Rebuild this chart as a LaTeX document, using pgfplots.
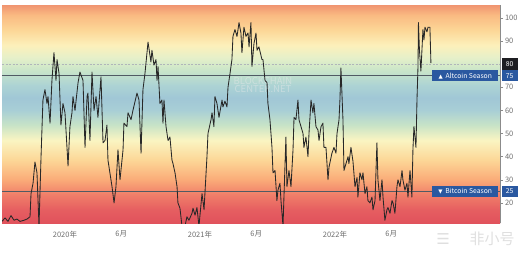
\documentclass[border=0pt]{standalone}
\usepackage{pgfplots}
\pgfplotsset{compat=1.18}
\usepackage{fontspec}
\setmainfont{Noto Sans CJK SC}
\newfontfamily\dejavu{DejaVu Sans}
\definecolor{lineC}{RGB}{40,40,40}
\definecolor{refC}{RGB}{80,90,100}
\definecolor{boxBlue}{RGB}{42,88,160}
\definecolor{boxDark}{RGB}{30,30,34}
\definecolor{tickC}{RGB}{110,110,110}
\pgfdeclareverticalshading{bgshade}{100bp}{
rgb(0bp)=(0.88,0.32,0.36);
rgb(25bp)=(0.88,0.32,0.36);
rgb(28bp)=(0.90,0.37,0.38);
rgb(31.4bp)=(0.94,0.49,0.41);
rgb(34.9bp)=(0.98,0.67,0.47);
rgb(39.4bp)=(0.99,0.84,0.59);
rgb(44bp)=(0.98,0.96,0.76);
rgb(47.5bp)=(0.78,0.89,0.78);
rgb(50.9bp)=(0.66,0.81,0.84);
rgb(53.7bp)=(0.63,0.78,0.84);
rgb(56.7bp)=(0.68,0.83,0.83);
rgb(60.1bp)=(0.79,0.90,0.79);
rgb(62.9bp)=(0.90,0.94,0.79);
rgb(65.8bp)=(0.99,0.94,0.73);
rgb(69.3bp)=(0.99,0.84,0.59);
rgb(72.7bp)=(0.98,0.73,0.51);
rgb(75bp)=(0.94,0.58,0.44);
rgb(100bp)=(0.94,0.58,0.44)}

\pgfplotstableread{
m v
-5.60 12
-5.33 13.5
-5.07 12
-4.80 14.5
-4.53 12.5
-4.27 13
-4.00 12
-3.64 12.5
-3.38 13
-3.11 14
-3.02 24
-2.84 28.5
-2.67 37.7
-2.49 33
-2.31 10
-2.13 40
-1.96 64.5
-1.78 69
-1.60 63
-1.51 66
-1.33 54.5
-1.16 73
-0.98 85
-0.80 73
-0.71 82
-0.53 76
-0.36 53.7
-0.18 63
0.00 59
0.27 36
0.44 53
0.62 59
0.71 66
0.89 60
1.16 72
1.33 76.6
1.60 73
1.78 44
1.96 66
2.04 67.5
2.22 47
2.40 76.6
2.58 60
2.76 66
2.93 57
3.20 74.5
3.38 46
3.56 47
3.73 53.7
3.82 38.5
4.18 27
4.36 20
4.53 27
4.71 43
4.89 30
5.16 43
5.24 54.5
5.51 53
5.60 59
5.87 56
6.04 60
6.40 67.5
6.58 64.5
6.76 41.5
6.93 69
7.11 76
7.29 85
7.38 89.6
7.64 81
7.73 86
7.91 79.6
8.09 82
8.18 73
8.27 79
8.44 63
8.62 64.5
8.71 54.5
8.80 64.5
8.98 53
9.16 47
9.33 48.5
9.51 38.5
9.60 37
9.78 33
9.96 27
10.04 20
10.22 17.7
10.40 10
10.67 10
10.84 14
11.02 12.5
11.29 15.5
11.38 17.7
11.56 14.7
11.73 18
11.91 10
12.18 24
12.36 17
12.62 40
12.71 50
12.98 56
13.07 59
13.24 53
13.33 66
13.51 63
13.69 57
13.96 64.5
14.04 61.5
14.22 64
14.40 61.5
14.49 70
14.67 76
14.84 82
14.93 92
15.11 95
15.29 92
15.47 98
15.64 93.5
15.73 85
15.91 96
16.09 92
16.27 93.5
16.36 87.5
16.53 98
16.62 79
16.80 89
16.98 93.5
17.07 86
17.24 87.5
17.51 82
17.60 82
17.78 73
17.96 72
18.04 63
18.22 56
18.40 44
18.49 33
18.67 34
18.84 21
18.93 25.5
19.11 28.5
19.20 21
19.38 10
19.64 48.5
19.73 27
19.91 34
20.09 27
20.27 43
20.36 57
20.53 56
20.71 64.5
20.80 56
20.98 53
21.16 50
21.24 44
21.42 48.5
21.60 40
21.69 50
21.87 64.5
22.04 59
22.13 63
22.31 53
22.49 51.5
22.58 47
22.76 53
22.93 54.5
23.02 44
23.20 44
23.38 30
23.47 35.5
23.73 41.5
23.91 44
24.09 41.5
24.18 50
24.36 56
24.44 64.5
24.53 78.4
24.71 56
24.80 34
24.98 37
25.16 40
25.24 37
25.42 44
25.60 38
25.78 27
25.96 31
26.04 22.5
26.22 33
26.40 30
26.49 33
26.67 24
26.84 27
26.93 21
27.11 20
27.29 22.5
27.38 17
27.56 21
27.73 46
27.82 30
28.00 21
28.18 30
28.27 22.5
28.44 12.5
28.62 17
28.71 18
28.89 15.5
29.07 21
29.16 20
29.33 15.5
29.51 27
29.60 30
29.78 27
29.96 34
30.04 30
30.22 25.5
30.40 28.5
30.49 22.5
30.67 34
30.84 22.5
30.93 43
31.02 53
31.20 44
31.29 64.5
31.38 79
31.42 98
31.51 86
31.64 77
31.73 86
31.82 95
31.91 90.5
32.00 96
32.18 94
32.27 96
32.44 96
32.53 80.5
}\altdata

\begin{document}
\begin{tikzpicture}
\useasboundingbox (-2pt,-32pt) rectangle (518pt,223pt);
\begin{axis}[
  at={(0pt,0pt)}, anchor=south west,
  scale only axis, width=498pt, height=218pt,
  xmin=-5.6, xmax=38.67, ymin=11.3, ymax=105.6,
  axis background/.style={shade, shading=bgshade},
  axis x line*=bottom, axis y line*=right,
  x axis line style={draw=none},
  y axis line style={draw=tickC!80, line width=0.5pt},
  xtick={0,5,12,17,24,29},
  xticklabels={2020年,6月,2021年,6月,2022年,6月},
  xtick style={draw=none},
  ytick={20,30,40,50,60,70,90,100},
  ytick style={draw=tickC!80, line width=0.4pt},
  tick align=outside, major tick length=3pt,
  tick label style={font=\fontsize{7.5}{8}\selectfont, text=tickC},
  x tick label style={yshift=-1.5pt},
  y tick label style={xshift=-1.5pt},
  /pgf/number format/assume math mode=true,
  clip mode=individual,
]
\node[text=gray!15, opacity=0.45, font=\fontsize{9.5}{10}\selectfont, align=center] at (axis cs:17.6,71) {BLOCKCHAIN\\[-2pt]CENTER.NET};
\addplot[refC!45, line width=0.5pt, dash pattern=on 2pt off 1.5pt] coordinates {(-5.6,80) (38.67,80)};
\addplot[refC, line width=0.75pt] coordinates {(-5.6,75) (38.67,75)};
\addplot[refC, line width=0.75pt] coordinates {(-5.6,25) (38.67,25)};
\addplot[lineC, line width=0.85pt, line join=round] table[x=m, y=v] {\altdata};
\coordinate (p80) at (axis cs:38.67,80);
\coordinate (p75) at (axis cs:38.67,75);
\coordinate (p25) at (axis cs:38.67,25);
\end{axis}
\tikzset{lbl/.style={inner sep=0pt, minimum height=11.5pt, text=white, font=\fontsize{6.8}{7}\selectfont}}
\node[lbl, fill=boxDark, anchor=west, minimum width=16pt] at ([xshift=1.5pt]p80) {80};
\node[lbl, fill=boxBlue, anchor=west, minimum width=16pt] at ([xshift=1.5pt]p75) {75};
\node[lbl, fill=boxBlue, anchor=west, minimum width=16pt] at ([xshift=1.5pt]p25) {25};
\node[lbl, fill=boxBlue, anchor=east, minimum width=66pt] at ([xshift=-1.5pt]p75) {{\dejavu\fontsize{5.5}{6}\selectfont ▲}\, Altcoin Season};
\node[lbl, fill=boxBlue, anchor=east, minimum width=66pt] at ([xshift=-1.5pt]p25) {{\dejavu\fontsize{5.5}{6}\selectfont ▼}\, Bitcoin Season};
\node[text=gray!25, font=\fontsize{15}{16}\selectfont, anchor=center] at (490pt,-16pt) {非小号};
\node[text=gray!25, font=\dejavu\fontsize{15}{16}\selectfont, anchor=center] at (441pt,-16pt) {☰};
\end{tikzpicture}
\end{document}
